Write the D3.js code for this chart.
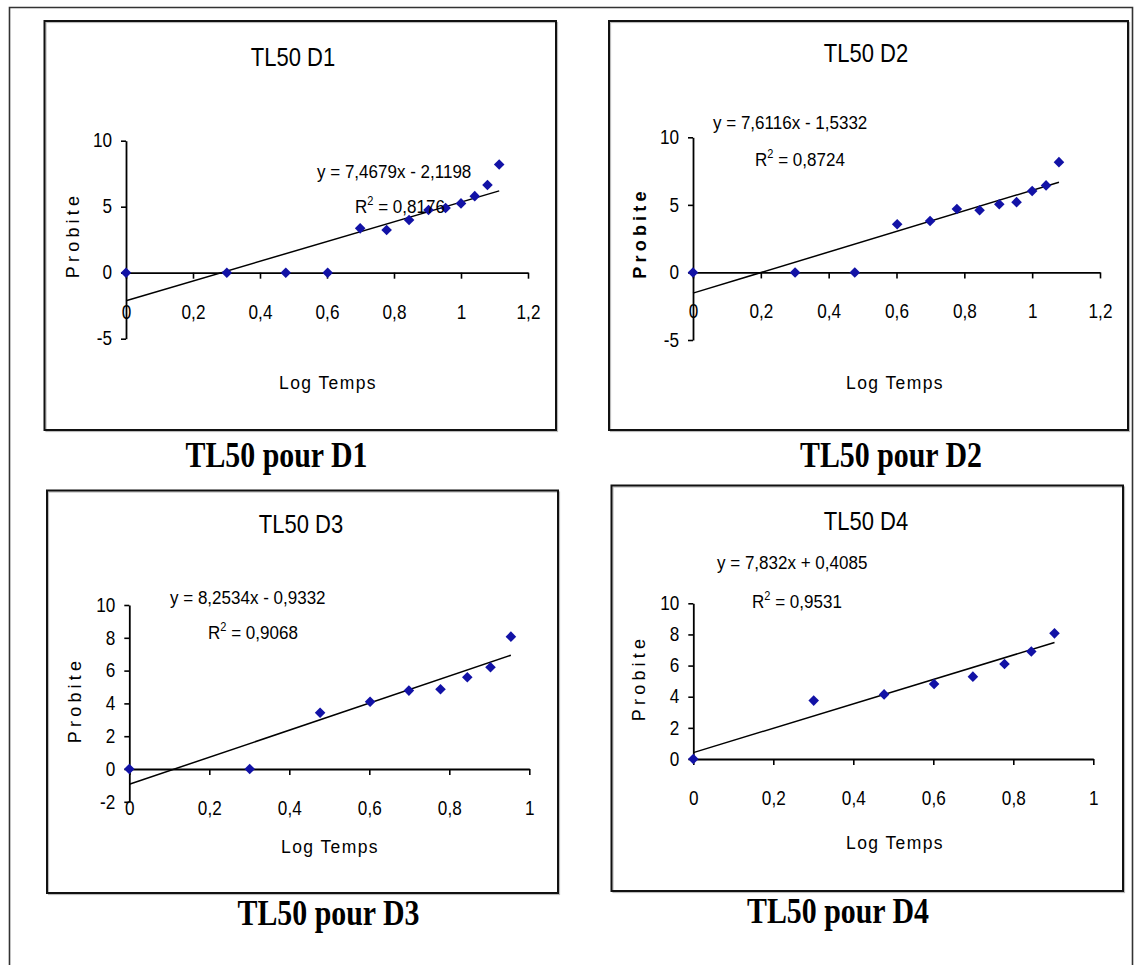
<!DOCTYPE html>
<html>
<head>
<meta charset="utf-8">
<script src="https://cdn.jsdelivr.net/npm/d3@7"></script>
<style>
  html, body { margin: 0; padding: 0; background: #fff; }
  svg { display: block; }
  text { font-family: "Liberation Sans", Arial, sans-serif; fill: #000; }
  .cap { font-family: "Liberation Serif", "Times New Roman", serif; font-weight: bold; }
</style>
</head>
<body>
<svg id="chart" width="1135" height="965"></svg>
<script>
// ---------------- DATA ----------------
const panelNames = ["D1", "D2", "D3", "D4"];
const panelTitles = ["TL50 D1", "TL50 D2", "TL50 D3", "TL50 D4"];
const captions = ["TL50 pour D1", "TL50 pour D2", "TL50 pour D3", "TL50 pour D4"];
const xAxisTitle = "Log Temps";
const yAxisTitle = "Probite";

const logTempsD1 = [0, 0.301, 0.477, 0.602, 0.699, 0.778, 0.845, 0.903, 0.954, 1.0, 1.041, 1.079, 1.114];
const probitD1   = [0, 0, 0, 0, 3.36, 3.23, 3.99, 4.75, 4.9, 5.25, 5.8, 6.64, 8.2];

const logTempsD2 = [0, 0.301, 0.477, 0.602, 0.699, 0.778, 0.845, 0.903, 0.954, 1.0, 1.041, 1.079];
const probitD2   = [0, 0, 0, 3.56, 3.8, 4.7, 4.6, 5.04, 5.2, 6.02, 6.44, 8.16];

const logTempsD3 = [0, 0.301, 0.477, 0.602, 0.699, 0.778, 0.845, 0.903, 0.954];
const probitD3   = [0, 0, 3.43, 4.1, 4.78, 4.86, 5.59, 6.2, 8.07];

const logTempsD4 = [0, 0.301, 0.477, 0.602, 0.699, 0.778, 0.845, 0.903];
const probitD4   = [0, 3.75, 4.15, 4.82, 5.29, 6.1, 6.9, 8.07];

const slopes     = [7.4679, 7.6116, 8.2534, 7.832];
const intercepts = [-2.1198, -1.5332, -0.9332, 0.4085];
const eqLabels   = ["y = 7,4679x - 2,1198", "y = 7,6116x - 1,5332", "y = 8,2534x - 0,9332", "y = 7,832x + 0,4085"];
const r2Labels   = ["0,8176", "0,8724", "0,9068", "0,9531"];

const xTicksD1 = [0, 0.2, 0.4, 0.6, 0.8, 1, 1.2];
const xTicksD2 = [0, 0.2, 0.4, 0.6, 0.8, 1, 1.2];
const xTicksD3 = [0, 0.2, 0.4, 0.6, 0.8, 1];
const xTicksD4 = [0, 0.2, 0.4, 0.6, 0.8, 1];
const yTicksD1 = [-5, 0, 5, 10];
const yTicksD2 = [-5, 0, 5, 10];
const yTicksD3 = [-2, 0, 2, 4, 6, 8, 10];
const yTicksD4 = [0, 2, 4, 6, 8, 10];

// ---------------- LAYOUT (pixels / styles) ----------------
const layout = [
  { box:[44.5, 21, 556, 430],  x0:126,   x1:528,    yb:338.7, yt:140.7, title:[293, 66], cap:[276.5, 466.5],
    eq:[317, 178], r2:[355, 213], prob:[73, 235], logt:[328, 389], probBold:false },
  { box:[609, 21, 1128, 430],  x0:693,   x1:1100,   yb:340,   yt:137.3, title:[866, 62], cap:[891, 467],
    eq:[713, 129], r2:[755, 166], prob:[640, 233], logt:[895, 389], probBold:true },
  { box:[47, 490.5, 558, 893], x0:129.3, x1:529.3,  yb:801.8, yt:605,   title:[301, 533], cap:[328.5, 925],
    eq:[170, 604], r2:[208, 639], prob:[75, 700], logt:[330, 853], probBold:false },
  { box:[611.5, 485.5, 1123, 891], x0:693.3, x1:1093.3, yb:759, yt:603.3, title:[866, 530], cap:[838, 923],
    eq:[717, 569], r2:[752, 608], prob:[639, 678], logt:[895, 849], probBold:false }
];

const xsAll = [logTempsD1, logTempsD2, logTempsD3, logTempsD4];
const ysAll = [probitD1, probitD2, probitD3, probitD4];
const xTicksAll = [xTicksD1, xTicksD2, xTicksD3, xTicksD4];
const yTicksAll = [yTicksD1, yTicksD2, yTicksD3, yTicksD4];

const svg = d3.select("#chart");
const fmt = d => String(d).replace(".", ",");
const SX = 0.88; // horizontal compression of the narrow chart font

// outer frame (open at bottom)
svg.append("path")
  .attr("d", "M9.5,970 L9.5,7.5 L1132.5,7.5 L1132.5,970")
  .attr("fill", "none").attr("stroke", "#333").attr("stroke-width", 1.6);

panelNames.forEach((name, i) => {
  const L = layout[i];
  const xs = xsAll[i], ys = ysAll[i];
  const xT = xTicksAll[i], yT = yTicksAll[i];
  const g = svg.append("g");

  // panel border with light shadow
  const [bx0, by0, bx1, by1] = L.box;
  g.append("rect").attr("x", bx0 + 1.5).attr("y", by0 + 1.5).attr("width", bx1 - bx0).attr("height", by1 - by0)
    .attr("fill", "none").attr("stroke", "#bbb").attr("stroke-width", 1.2);
  g.append("rect").attr("x", bx0).attr("y", by0).attr("width", bx1 - bx0).attr("height", by1 - by0)
    .attr("fill", "none").attr("stroke", "#111").attr("stroke-width", 2);

  const x = d3.scaleLinear().domain([0, d3.max(xT)]).range([L.x0, L.x1]);
  const y = d3.scaleLinear().domain([d3.min(yT), d3.max(yT)]).range([L.yb, L.yt]);

  // y axis
  const yAx = g.append("g").attr("transform", `translate(${x(0)},0)`)
    .call(d3.axisLeft(y).tickValues(yT).tickFormat(fmt).tickSize(5).tickSizeOuter(0).tickPadding(9));
  // x axis at y=0
  const xAx = g.append("g").attr("transform", `translate(0,${y(0)})`)
    .call(d3.axisBottom(x).tickValues(xT).tickFormat(fmt).tickSize(6).tickSizeOuter(0).tickPadding(26));
  [yAx, xAx].forEach(ax => {
    ax.select(".domain").attr("stroke", "#000").attr("stroke-width", 1.8);
    ax.selectAll(".tick line").attr("stroke", "#000").attr("stroke-width", 1.6);
    ax.selectAll(".tick text").attr("font-size", 19.5).attr("fill", "#000")
      .style("font-family", '"Liberation Sans", Arial, sans-serif');
  });
  // compress tick labels horizontally around their anchor
  yAx.selectAll(".tick text").each(function () {
    const t = d3.select(this); const tx = +t.attr("x");
    t.attr("x", 0).attr("transform", `translate(${tx},0) scale(${SX},1)`);
  });
  xAx.selectAll(".tick text").attr("transform", `scale(${SX},1)`);

  // trend line
  const xMaxData = d3.max(xs);
  const lineData = [0, xMaxData].map(v => [v, slopes[i] * v + intercepts[i]]);
  g.append("path")
    .attr("d", d3.line().x(d => x(d[0])).y(d => y(d[1]))(lineData))
    .attr("stroke", "#000").attr("stroke-width", 1.5).attr("fill", "none");

  // markers
  const sym = d3.symbol().type(d3.symbolSquare).size(56);
  g.selectAll("path.pt").data(xs.map((v, k) => [v, ys[k]])).join("path")
    .attr("class", "pt")
    .attr("d", sym)
    .attr("transform", d => `translate(${x(d[0])},${y(d[1])}) rotate(45)`)
    .attr("fill", "#1212a6");

  // panel title
  g.append("g").attr("transform", `translate(${L.title[0]},${L.title[1]}) scale(${SX},1)`)
    .append("text").attr("text-anchor", "middle").attr("font-size", 25).text(panelTitles[i]);

  // equation
  g.append("g").attr("transform", `translate(${L.eq[0]},${L.eq[1]}) scale(0.92,1)`)
    .append("text").attr("font-size", 18.5).text(eqLabels[i]);
  const r2 = g.append("g").attr("transform", `translate(${L.r2[0]},${L.r2[1]}) scale(0.92,1)`)
    .append("text").attr("font-size", 18.5);
  r2.append("tspan").text("R");
  r2.append("tspan").attr("font-size", 12).attr("dy", -8).text("2");
  r2.append("tspan").attr("dy", 8).text(" = " + r2Labels[i]);

  // axis titles
  g.append("text").attr("transform", `translate(${L.prob[0]},${L.prob[1]}) rotate(-90)`)
    .attr("text-anchor", "middle").attr("dy", "0.35em").attr("font-size", 18)
    .attr("letter-spacing", 4.2).attr("font-weight", L.probBold ? "bold" : "normal").text(yAxisTitle);
  g.append("text").attr("x", L.logt[0]).attr("y", L.logt[1]).attr("text-anchor", "middle")
    .attr("font-size", 17.5).attr("letter-spacing", 1.4).text(xAxisTitle);

  // caption below panel
  svg.append("g").attr("transform", `translate(${L.cap[0]},${L.cap[1]}) scale(0.83,1)`)
    .append("text").attr("class", "cap").attr("text-anchor", "middle").attr("font-size", 36)
    .text(captions[i]);
});
</script>
</body>
</html>
